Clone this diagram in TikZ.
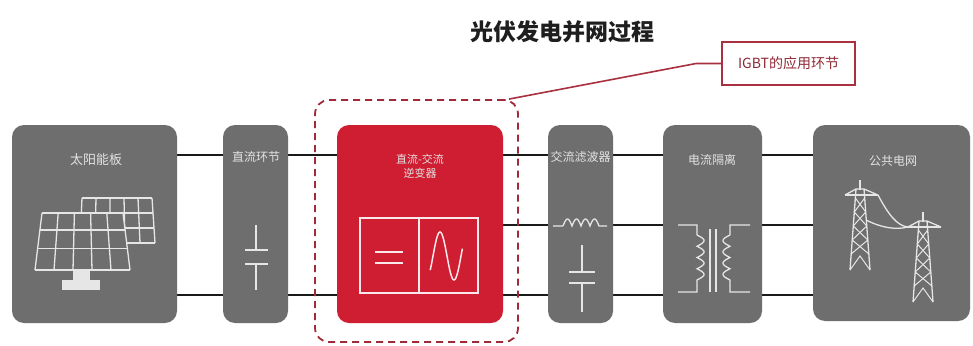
\documentclass[tikz,border=0pt]{standalone}
\usepackage{fontspec}
\newfontfamily\cjk{Noto Sans CJK SC}
\usetikzlibrary{calc}
\pgfdeclarelayer{background}
\pgfsetlayers{background,main}

\definecolor{boxgray}{HTML}{6E6E6E}
\definecolor{stagered}{HTML}{CF1E32}
\definecolor{dashred}{HTML}{9E2A3A}
\definecolor{calloutred}{HTML}{A8303F}
\definecolor{wireblack}{HTML}{1A1A1A}
\definecolor{iconwhite}{HTML}{E6E6E6}
\definecolor{labelgray}{HTML}{E2E2E2}
\definecolor{titlecolor}{HTML}{1E1E1E}

\tikzset{
  stage/.style={fill=boxgray, rounded corners=12pt, minimum height=198pt, inner sep=0pt},
  lbl/.style={text=labelgray, font=\cjk\fontsize{12}{14}\selectfont, inner sep=0pt, align=center},
  icon/.style={draw=iconwhite, line width=1.3pt},
  invline/.style={draw=white!90!stagered, line width=1.8pt},
  wire/.style={draw=wireblack, line width=2pt},
  pylon/.pic={
    % spike and cross-arm
    \draw[icon] (0,0) -- (0,10);
    \draw[icon] (-15,15) -- (18,15);
    \draw[icon] (-15,15) -- (-4,9) -- (4,9) -- (18,15);
    % tapering body
    \draw[icon] (-4,9) -- (-10,90);
    \draw[icon] (4,9) -- (10,90);
    % lattice
    \foreach \a/\b in {18/32,32/46,46/60,60/74}{
      \draw[icon, line width=1pt] ({-(4+0.075*(\a-9))},\a) -- ({4+0.075*(\b-9)},\b);
      \draw[icon, line width=1pt] ({4+0.075*(\a-9)},\a) -- ({-(4+0.075*(\b-9))},\b);
    }
    \draw[icon, line width=1pt] (-10,90) -- (0,76) -- (10,90);
  }
}

\begin{document}
\begin{tikzpicture}[x=1pt,y=-1pt]
\useasboundingbox (0,0) rectangle (973,345);

% title
\node[font=\cjk\bfseries\fontsize{23}{26}\selectfont, text=titlecolor] (title) at (562,32) {光伏发电并网过程};

% stages
\node[stage, minimum width=165pt] (solar) at (94.5,224) {};
\node[stage, minimum width=65pt] (dclink) at (255.5,224) {};
\node[stage, minimum width=166pt, fill=stagered] (inv) at (420,224) {};
\node[stage, minimum width=65pt] (filt) at (580.5,224) {};
\node[stage, minimum width=99pt] (iso) at (712.5,224) {};
\node[stage, minimum width=157pt, minimum height=196pt] (grid) at (891.5,223) {};

% white page and the power lines behind the stages
\coordinate (ltop) at (0,155);
\coordinate (lmid) at (0,225);
\coordinate (lbot) at (0,295);
\begin{pgfonlayer}{background}
  \fill[white] (0,0) rectangle (973,345);
  \draw[wire] (solar.east |- ltop) -- (grid.west |- ltop);
  \draw[wire] (inv.east |- lmid) -- (grid.west |- lmid);
  \draw[wire] (solar.east |- lbot) -- (grid.west |- lbot);
\end{pgfonlayer}

% stage labels
\node[lbl, font=\cjk\fontsize{13}{15}\selectfont] (tsolar) at (96,160) {太阳能板};
\node[lbl] (tdclink) at (256,157) {直流环节};
\node[lbl, font=\cjk\fontsize{11}{14}\selectfont] (tinv) at (420,166) {直流-交流\\逆变器};
\node[lbl] (tfilt) at (580.5,157) {交流滤波器};
\node[lbl] (tiso) at (712,160) {电流隔离};
\node[lbl] (tgrid) at (893,161) {公共电网};

% solar panels
\coordinate (btl) at (82,198); \coordinate (btr) at (152,198);
\coordinate (bbr) at (155,243); \coordinate (bbl) at (80,243);
\foreach \t in {0,0.2,0.4,0.6,0.8,1}
  \draw[icon] ($(btl)!\t!(btr)$) -- ($(bbl)!\t!(bbr)$);
\foreach \t in {0,0.333,0.667,1}
  \draw[icon] ($(btl)!\t!(bbl)$) -- ($(btr)!\t!(bbr)$);
\coordinate (ftl) at (42,213); \coordinate (ftr) at (123,213);
\coordinate (fbr) at (130,270); \coordinate (fbl) at (35,270);
\fill[boxgray] (ftl) -- (ftr) -- (fbr) -- (fbl) -- cycle;
\foreach \t in {0,0.2,0.4,0.6,0.8,1}
  \draw[icon] ($(ftl)!\t!(ftr)$) -- ($(fbl)!\t!(fbr)$);
\foreach \t in {0,0.3,0.62,1}
  \draw[icon] ($(ftl)!\t!(fbl)$) -- ($(ftr)!\t!(fbr)$);
\fill[iconwhite] (73,270) rectangle (90,281);
\fill[iconwhite] (62,280) rectangle (100,290);

% DC link capacitor
\draw[icon] (256,225) -- (256,250) (245,250) -- (268,250)
            (245,264) -- (268,264) (256,264) -- (256,290);

% inverter symbol
\draw[invline] (360,218) rectangle (478,293);
\draw[invline] (419,218) -- (419,293);
\draw[invline] (375,252) -- (403,252) (375,263) -- (403,263);
\draw[invline, line width=1.5pt] plot[domain=-0.1:1.05, samples=60, smooth]
  ({433+28*\x},{256-24*sin(360*\x)});

% AC filter: inductor and capacitor
\draw[icon] (553,226) -- (563,226)
  plot[domain=0:36, samples=97] ({563+\x},{226-7*abs(sin(\x*20))})
  -- (607,226);
\draw[icon] (582,245) -- (582,272) (569,272) -- (595,272)
            (569,283) -- (595,283) (582,283) -- (582,312);

% isolation transformer
\draw[icon] (678,225) -- (697,225) -- (697,235)
  plot[domain=0:45, samples=121] ({697+7*abs(sin(\x*16))},{235+\x})
  -- (697,292) -- (678,292);
\draw[icon] (750,225) -- (730,225) -- (730,235)
  plot[domain=0:45, samples=121] ({730-7*abs(sin(\x*16))},{235+\x})
  -- (730,292) -- (750,292);
\draw[icon] (710,229) -- (710,292) (716,229) -- (716,292);

% pylons and conductors
\pic at (860,180) {pylon};
\pic at (923,212) {pylon};
\draw[icon] (878,195) .. controls (888,214) and (897,226) .. (908,227);
\draw[icon] (866,220) .. controls (882,228) and (896,230) .. (908,227);

% IGBT zone and callout
\node[draw=dashred, dash pattern=on 7pt off 5pt, line width=1.8pt,
      rounded corners=14pt, minimum width=203pt, minimum height=242pt,
      inner sep=0pt] (igbtzone) at (416.5,221) {};
\node[draw=calloutred, line width=1.8pt, minimum width=133pt, minimum height=43pt,
      inner sep=0pt, text=calloutred!85!black, font=\cjk\fontsize{14}{16}\selectfont]
      (callout) at (788.5,63.5) {IGBT的应用环节};
\draw[calloutred, line width=1.6pt] ($(igbtzone.north east)+(-10,0)$)
  -- ([xshift=-25pt]callout.west) -- (callout.west);
\end{tikzpicture}
\end{document}
